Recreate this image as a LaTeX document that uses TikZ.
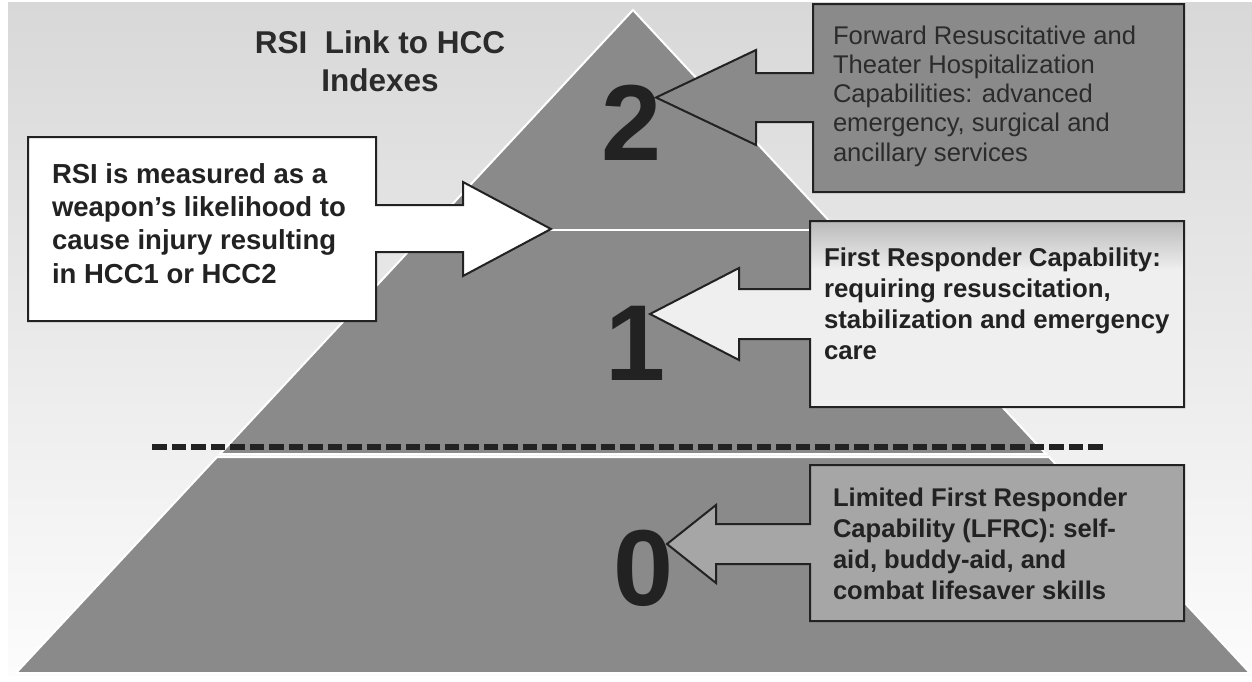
\documentclass[tikz,border=0pt]{standalone}
\usepackage{fontspec}
\setmainfont{Liberation Sans}
\definecolor{tier}{HTML}{8A8A8A}
\definecolor{box0}{HTML}{A6A6A6}
\definecolor{box1}{HTML}{EFEFEF}
\definecolor{box1top}{HTML}{BBBBBB}
\definecolor{ink}{HTML}{222222}
\definecolor{inksoft}{HTML}{2B2B2B}
\definecolor{bgtop}{HTML}{D8D8D8}
\definecolor{bgbot}{HTML}{FCFCFC}
\begin{document}
\begin{tikzpicture}[x=1pt,y=-1pt,
  txt/.style={inner sep=0pt, outer sep=0pt, text=ink, align=left, anchor=base west},
  digit/.style={inner sep=0pt, text=ink, font=\bfseries\fontsize{108}{108}\selectfont, anchor=base},
  calloutbox/.style={draw=ink, line width=2pt, line join=miter},
  tierstyle/.style={fill=tier, draw=white, line width=2pt, line join=miter}]
\useasboundingbox (0,0) rectangle (1252,681);
% background
\fill[white] (0,0) rectangle (1252,681);
\shade[top color=bgtop, bottom color=bgbot] (8,2) rectangle (1252,675);
% pyramid
\path[tierstyle] (633,10) -- (1046,454) -- (220,454) -- cycle;
\path[tierstyle] (217,457) -- (1049,457) -- (1250,673) -- (16,673) -- cycle;
\draw[white, line width=2.5pt] (428,230) -- (838,230);
\draw[ink, line width=6pt, dash pattern=on 14.5pt off 5pt] (152,447) -- (1105,447);
% tier numbers
\node[digit] (d2) at (632,160) {2};
\node[digit] (d1) at (636,380) {1};
\node[digit] (d0) at (644,605) {0};
% title (base anchor = last line)
\node[txt, anchor=base, align=center, text=inksoft, font=\bfseries\fontsize{31.5}{38}\selectfont] (title) at (380,91) {RSI~ Link to HCC\\Indexes};
% left callout
\filldraw[calloutbox, fill=white] (28,137) -- (376,137) -- (376,205) -- (463,205) -- (463,182) -- (551,229) -- (463,276) -- (463,252) -- (376,252) -- (376,321) -- (28,321) -- cycle;
\node[txt, font=\bfseries\fontsize{27.5}{33.3}\selectfont] (rsi) at (52,283) {RSI is measured as a\\weapon’s likelihood to\\cause injury resulting\\in HCC1 or HCC2};
% callout 2
\filldraw[calloutbox, fill=tier] (813,4) -- (1184,4) -- (1184,192) -- (813,192) -- (813,122) -- (756,122) -- (756,145) -- (656,97.5) -- (756,50) -- (756,73) -- (813,73) -- cycle;
\node[txt, text=inksoft, font=\fontsize{25.6}{29.2}\selectfont] (fr2) at (833,161) {Forward Resuscitative and\\Theater Hospitalization\\Capabilities: advanced\\emergency, surgical and\\ancillary services};
% callout 1
\fill[box1] (810,221) -- (1184,221) -- (1184,407) -- (810,407) -- (810,339) -- (739,339) -- (739,360) -- (650,314) -- (739,268) -- (739,289) -- (810,289) -- cycle;
\shade[top color=box1top, bottom color=box1] (811,222) rectangle (1183,270);
\draw[calloutbox] (810,221) -- (1184,221) -- (1184,407) -- (810,407) -- (810,339) -- (739,339) -- (739,360) -- (650,314) -- (739,268) -- (739,289) -- (810,289) -- cycle;
\node[txt, font=\bfseries\fontsize{25.8}{30.7}\selectfont] (fr1) at (824,359) {First Responder Capability:\\requiring resuscitation,\\stabilization and emergency\\care};
% callout 0
\filldraw[calloutbox, fill=box0] (810,465) -- (1184,465) -- (1184,621) -- (810,621) -- (810,564) -- (716,564) -- (716,583) -- (667,544) -- (716,505) -- (716,524) -- (810,524) -- cycle;
\node[txt, font=\bfseries\fontsize{25.6}{31}\selectfont] (fr0) at (833,599) {Limited First Responder\\Capability (LFRC): self-\\aid, buddy-aid, and\\combat lifesaver skills};
\end{tikzpicture}
\end{document}
